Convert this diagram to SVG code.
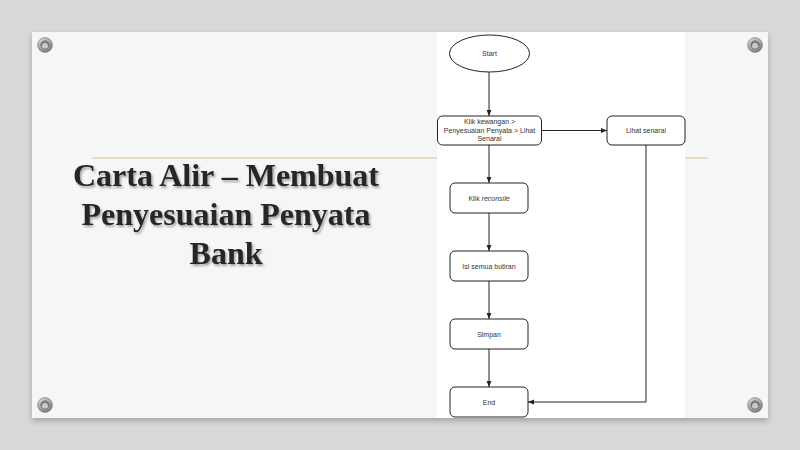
<svg xmlns="http://www.w3.org/2000/svg" width="800" height="450" viewBox="0 0 800 450">
<defs>
<style>
.node{fill:#fff;stroke:#222;stroke-width:1}
.lbl{font-family:"Liberation Sans",Arial,sans-serif;font-size:7px;fill:#333;text-anchor:middle}
.conn{stroke:#222;stroke-width:1;fill:none}
.title{font-family:"Liberation Serif","Times New Roman",serif;font-weight:bold;font-size:32px;fill:#262626;text-anchor:middle}
</style>
<marker id="arr" viewBox="0 0 10 10" refX="10" refY="5" markerWidth="6" markerHeight="6" orient="auto" markerUnits="userSpaceOnUse">
<path d="M0,1 L10,5 L0,9 z" fill="#222"/>
</marker>
<radialGradient id="screw" cx="0.4" cy="0.35" r="0.7">
<stop offset="0" stop-color="#e6e6e6"/>
<stop offset="0.6" stop-color="#a8a8a8"/>
<stop offset="1" stop-color="#6e6e6e"/>
</radialGradient>
<filter id="tsh" x="-10%" y="-20%" width="120%" height="150%">
<feDropShadow dx="1.5" dy="2" stdDeviation="1.2" flood-color="#000" flood-opacity="0.35"/>
</filter>
<filter id="csh" x="-5%" y="-5%" width="110%" height="115%">
<feDropShadow dx="0" dy="3" stdDeviation="3" flood-color="#000" flood-opacity="0.25"/>
</filter>
<g id="screwShape">
<circle r="7.5" fill="url(#screw)" stroke="#777" stroke-width="0.5"/>
<circle r="4.2" fill="#c9c9c9" stroke="#6a6a6a" stroke-width="1"/>
<path d="M-3.5,0.5 A3.5,3.5 0 0 1 3.5,0.5" fill="none" stroke="#555" stroke-width="1"/>
</g>
</defs>
<rect width="800" height="450" fill="#d9d9d9"/>
<rect x="32" y="32" width="736" height="386" fill="#f6f6f6" filter="url(#csh)"/>
<line x1="92" y1="158" x2="708" y2="158" stroke="#e3d5ae" stroke-width="1.5"/>
<use href="#screwShape" x="45" y="45"/>
<use href="#screwShape" x="755" y="45"/>
<use href="#screwShape" x="45" y="405"/>
<use href="#screwShape" x="755" y="405"/>
<g id="title" filter="url(#tsh)">
<text class="title" x="226" y="186">Carta Alir – Membuat</text>
<text class="title" x="226" y="225">Penyesuaian Penyata</text>
<text class="title" x="226" y="264">Bank</text>
</g>
<rect x="437" y="32" width="248" height="386" fill="#fff"/>
<g id="connectors">
<line class="conn" x1="489" y1="72" x2="489" y2="116" marker-end="url(#arr)"/>
<line class="conn" x1="541" y1="130.5" x2="607" y2="130.5" marker-end="url(#arr)"/>
<line class="conn" x1="489" y1="145" x2="489" y2="183" marker-end="url(#arr)"/>
<line class="conn" x1="489" y1="213" x2="489" y2="251" marker-end="url(#arr)"/>
<line class="conn" x1="489" y1="281" x2="489" y2="319" marker-end="url(#arr)"/>
<line class="conn" x1="489" y1="349" x2="489" y2="387" marker-end="url(#arr)"/>
<polyline class="conn" points="646,145 646,402 528,402" marker-end="url(#arr)"/>
</g>
<g id="start">
<ellipse class="node" cx="489.5" cy="53.5" rx="40" ry="18.5"/>
<text class="lbl" x="489.5" y="56">Start</text>
</g>
<g id="klik-kewangan">
<rect class="node" x="437.5" y="116" width="104" height="29" rx="5"/>
<text class="lbl" x="489.5" y="124">Klik kewangan &gt;</text>
<text class="lbl" x="489.5" y="132.5">Penyesuaian Penyata &gt; Lihat</text>
<text class="lbl" x="489.5" y="141">Senarai</text>
</g>
<g id="lihat-senarai">
<rect class="node" x="607" y="116" width="78" height="29" rx="5"/>
<text class="lbl" x="646" y="133">Lihat senarai</text>
</g>
<g id="klik-reconsile">
<rect class="node" x="450" y="183" width="78" height="30" rx="5"/>
<text class="lbl" x="489" y="200.5">Klik <tspan font-style="italic">reconsile</tspan></text>
</g>
<g id="isi-semua">
<rect class="node" x="450" y="251" width="78" height="30" rx="5"/>
<text class="lbl" x="489" y="268.5">Isi semua butiran</text>
</g>
<g id="simpan">
<rect class="node" x="450" y="319" width="78" height="30" rx="5"/>
<text class="lbl" x="489" y="336.5">Simpan</text>
</g>
<g id="end">
<rect class="node" x="450" y="387" width="78" height="30" rx="5"/>
<text class="lbl" x="489" y="404.5">End</text>
</g>
</svg>
